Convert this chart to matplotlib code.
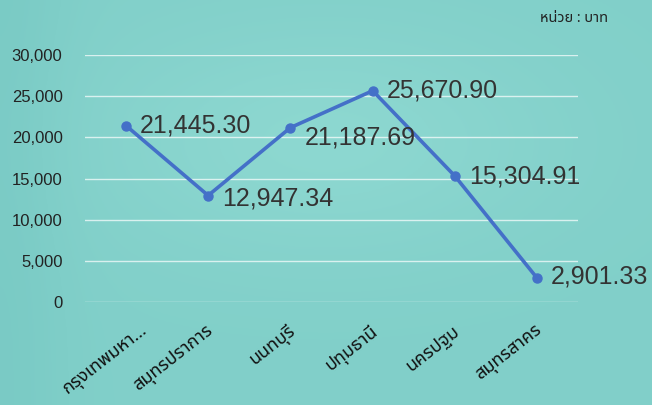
import numpy as np
import matplotlib
matplotlib.use("Agg")
import matplotlib.pyplot as plt
import matplotlib.transforms as mtrans
from matplotlib import font_manager as fm
from matplotlib.ft2font import FT2Font

provinces = ["กรุงเทพมหา...", "สมุทรปราการ", "นนทบุรี", "ปทุมธานี", "นครปฐม", "สมุทรสาคร"]
values = [21445.30, 12947.34, 21187.69, 25670.90, 15304.91, 2901.33]
yticks = [0, 5000, 10000, 15000, 20000, 25000, 30000]
unit_label = "หน่วย : บาท"


def find_thai_font():
    # pick any installed font that has Thai glyphs
    names = []
    for f in fm.fontManager.ttflist:
        try:
            if FT2Font(f.fname).get_char_index(0x0E01):
                names.append(f.name)
        except Exception:
            pass
    for pref in ["Noto Sans Thai", "Noto Sans Thai UI", "Noto Sans Thai Looped"]:
        if pref in names:
            return pref
    return names[0] if names else "DejaVu Sans"


thai = find_thai_font()
plt.rcParams['font.family'] = ['Liberation Sans', 'DejaVu Sans']

fig = plt.figure(figsize=(6.52, 4.05), dpi=100)

# teal background
bg = fig.add_axes([0, 0, 1, 1], zorder=-1)
yy, xx = np.mgrid[0:1:200j, 0:1:300j]
shade = 0.55 + 0.25 * np.exp(-((xx - 0.5) ** 2 / 0.12 + (yy - 0.35) ** 2 / 0.08)) - 0.3 * np.exp(-(xx ** 2) / 0.01) * 0.5
c0 = np.array([104, 190, 186]) / 255.0
c1 = np.array([150, 222, 214]) / 255.0
img = c0[None, None, :] + (c1 - c0)[None, None, :] * shade[:, :, None]
bg.imshow(np.clip(img, 0, 1), aspect='auto', extent=[0, 1, 0, 1], origin='upper')
bg.axis('off')

ax = fig.add_axes([0.130, 0.254, 0.757, 0.610])
ax.patch.set_alpha(0)
x = np.arange(len(values))
ax.plot(x, values, color='#4470c8', lw=2.6, marker='o', ms=6.5, solid_capstyle='round', zorder=3)

offsets = [(10, 0), (10, -2), (10, -7), (10, 0), (10, 0), (10, 1)]
for xi, v, off in zip(x, values, offsets):
    ax.annotate(f"{v:,.2f}", (xi, v), xytext=off, textcoords='offset points',
                ha='left', va='center', fontsize=18, color='#333333', zorder=4)

ax.set_xlim(-0.5, len(values) - 0.5)
ax.set_ylim(0, 30000)
ax.set_yticks(yticks)
ax.set_yticklabels([f"{t:,}" for t in yticks], fontsize=12, color='#222222')
ax.yaxis.grid(True, color='white', alpha=0.7, lw=1)
ax.set_axisbelow(True)
ax.tick_params(axis='y', length=0, pad=16)
ax.tick_params(axis='x', length=0, pad=14)
ax.set_xticks(x)
ax.set_xticklabels(provinces, rotation=38, ha='right', rotation_mode='anchor',
                   fontsize=13, color='#111111', family=[thai, 'DejaVu Sans'])
# nudge labels so their ends sit just right of the ticks (first one a bit further)
for i, lab in enumerate(ax.get_xticklabels()):
    dx = 10 if i == 0 else -2
    lab.set_transform(lab.get_transform() + mtrans.ScaledTranslation(dx / 72, 0, fig.dpi_scale_trans))
for s in ax.spines.values():
    s.set_visible(False)

fig.text(0.932, 0.955, unit_label, ha='right', va='center', fontsize=10.5,
         color='#222222', family=[thai, 'DejaVu Sans'])

fig.savefig("out.png", dpi=100)
